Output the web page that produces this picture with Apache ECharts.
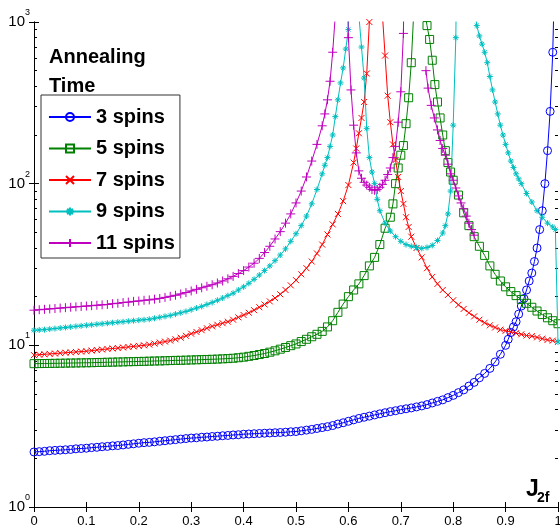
<!DOCTYPE html>
<html><head><meta charset="utf-8">
<script src="https://cdn.jsdelivr.net/npm/echarts@6/dist/echarts.min.js"></script>
<style>html,body{margin:0;padding:0;background:#fff}#c{width:560px;height:532px}</style>
</head><body><div id="c"></div>
<script>
// ---- data ----
const seriesNames = ['3 spins', '5 spins', '7 spins', '9 spins', '11 spins'];
const legendTitle = ['Annealing', 'Time'];
const xAxisName = ['J', '2f'];
const minorLogTicks = [2,3,4,5,6,7,8,9,20,30,40,50,60,70,80,90,200,300,400,500,600,700,800,900];

const spins3 = [[0,2.19],[0.01,2.2],[0.02,2.21],[0.03,2.23],[0.04,2.24],[0.05,2.25],[0.06,2.26],[0.07,2.27],[0.08,2.29],[0.09,2.3],[0.1,2.31],[0.11,2.33],[0.12,2.34],[0.13,2.36],[0.14,2.37],[0.15,2.39],[0.16,2.4],[0.17,2.42],[0.18,2.44],[0.19,2.46],[0.2,2.48],[0.21,2.5],[0.22,2.51],[0.23,2.53],[0.24,2.55],[0.25,2.57],[0.26,2.59],[0.27,2.61],[0.28,2.63],[0.29,2.65],[0.3,2.67],[0.31,2.68],[0.32,2.7],[0.33,2.71],[0.34,2.73],[0.35,2.74],[0.36,2.76],[0.37,2.77],[0.38,2.79],[0.39,2.8],[0.4,2.82],[0.41,2.83],[0.42,2.84],[0.43,2.85],[0.44,2.86],[0.45,2.87],[0.46,2.88],[0.47,2.89],[0.48,2.9],[0.49,2.92],[0.5,2.93],[0.51,2.96],[0.52,2.99],[0.53,3.02],[0.54,3.06],[0.55,3.1],[0.56,3.14],[0.57,3.19],[0.58,3.26],[0.59,3.32],[0.6,3.39],[0.61,3.46],[0.62,3.53],[0.63,3.59],[0.64,3.65],[0.65,3.71],[0.66,3.77],[0.67,3.83],[0.68,3.89],[0.69,3.94],[0.7,4.0],[0.71,4.05],[0.72,4.1],[0.73,4.16],[0.74,4.22],[0.75,4.3],[0.76,4.4],[0.77,4.5],[0.78,4.6],[0.79,4.75],[0.8,4.9],[0.81,5.1],[0.82,5.3],[0.83,5.6],[0.84,5.9],[0.85,6.3],[0.86,6.7],[0.87,7.2],[0.88,7.9],[0.89,8.8],[0.9,10],[0.905,10.9],[0.91,12],[0.915,13],[0.92,14],[0.925,15.6],[0.93,17.5],[0.935,19.5],[0.94,22],[0.945,25],[0.95,28],[0.955,33],[0.96,40],[0.965,52],[0.97,68],[0.975,100],[0.98,160],[0.985,280],[0.99,650],[0.995,3000]];

const spins5 = [[0,7.7],[0.01,7.71],[0.02,7.72],[0.03,7.73],[0.04,7.74],[0.05,7.75],[0.06,7.76],[0.07,7.77],[0.08,7.78],[0.09,7.79],[0.1,7.8],[0.11,7.81],[0.12,7.83],[0.13,7.84],[0.14,7.86],[0.15,7.87],[0.16,7.89],[0.17,7.9],[0.18,7.92],[0.19,7.93],[0.2,7.95],[0.21,7.96],[0.22,7.98],[0.23,8.0],[0.24,8.01],[0.25,8.03],[0.26,8.05],[0.27,8.07],[0.28,8.08],[0.29,8.1],[0.3,8.12],[0.31,8.14],[0.32,8.16],[0.33,8.18],[0.34,8.2],[0.35,8.22],[0.36,8.25],[0.37,8.28],[0.38,8.32],[0.39,8.38],[0.4,8.45],[0.41,8.55],[0.42,8.65],[0.43,8.77],[0.44,8.9],[0.45,9.07],[0.46,9.25],[0.47,9.47],[0.48,9.7],[0.49,9.95],[0.5,10.2],[0.51,10.55],[0.52,10.9],[0.53,11.3],[0.54,11.7],[0.55,12.2],[0.56,13.0],[0.57,14.2],[0.58,16],[0.59,18],[0.6,20],[0.61,22],[0.62,24],[0.63,27],[0.64,31],[0.65,35],[0.66,42],[0.67,53],[0.68,62],[0.685,75],[0.69,100],[0.695,125],[0.7,150],[0.705,172],[0.71,235],[0.715,340],[0.72,560],[0.725,1200],[0.73,20000],[0.74,20000],[0.745,1200],[0.75,950],[0.755,780],[0.76,580],[0.765,410],[0.77,320],[0.775,255],[0.78,200],[0.785,160],[0.79,135],[0.795,118],[0.8,105],[0.81,85],[0.82,66],[0.83,55],[0.84,47],[0.85,41],[0.86,36],[0.87,31],[0.88,27.5],[0.89,25],[0.9,23],[0.91,21.5],[0.92,20.3],[0.93,19.2],[0.94,18.2],[0.95,17.2],[0.96,16.3],[0.97,15.5],[0.98,14.8],[0.99,14.2],[1,13.6]];

const spins7 = [[0,8.7],[0.01,8.75],[0.02,8.8],[0.03,8.85],[0.04,8.9],[0.05,8.95],[0.06,9.0],[0.07,9.05],[0.08,9.1],[0.09,9.15],[0.1,9.2],[0.11,9.28],[0.12,9.35],[0.13,9.42],[0.14,9.5],[0.15,9.56],[0.16,9.62],[0.17,9.7],[0.18,9.77],[0.19,9.85],[0.2,9.92],[0.21,10],[0.22,10.1],[0.23,10.25],[0.24,10.4],[0.25,10.55],[0.26,10.7],[0.27,10.9],[0.28,11.15],[0.29,11.45],[0.3,11.8],[0.31,12.1],[0.32,12.4],[0.33,12.75],[0.34,13.1],[0.35,13.4],[0.36,13.7],[0.37,14.0],[0.38,14.4],[0.39,14.9],[0.4,15.4],[0.41,15.9],[0.42,16.5],[0.43,17.2],[0.44,17.9],[0.45,18.7],[0.46,19.6],[0.47,20.7],[0.48,22],[0.49,23.5],[0.5,25.3],[0.51,27.5],[0.52,30],[0.53,33],[0.54,37],[0.55,42],[0.56,48.5],[0.57,56],[0.58,65],[0.59,78],[0.6,98],[0.61,135],[0.615,165],[0.62,205],[0.625,255],[0.63,320],[0.635,480],[0.64,1000],[0.65,20000],[0.66,20000],[0.665,1100],[0.67,620],[0.675,350],[0.68,240],[0.685,175],[0.69,140],[0.695,110],[0.7,90],[0.705,75],[0.71,62],[0.715,54],[0.72,47],[0.73,40],[0.74,35],[0.75,30],[0.76,26.5],[0.77,24],[0.78,22],[0.79,20.5],[0.8,19],[0.81,17.8],[0.82,16.8],[0.83,15.9],[0.84,15.1],[0.85,14.4],[0.86,13.8],[0.87,13.3],[0.88,12.9],[0.89,12.5],[0.9,12.3],[0.91,12.1],[0.92,11.9],[0.93,11.7],[0.94,11.5],[0.95,11.4],[0.96,11.2],[0.97,11],[0.98,10.8],[0.99,10.7],[1,10.5]];

const spins9 = [[0,12.4],[0.01,12.45],[0.02,12.5],[0.03,12.6],[0.04,12.7],[0.05,12.8],[0.06,12.9],[0.07,13],[0.08,13.1],[0.09,13.2],[0.1,13.3],[0.11,13.4],[0.12,13.5],[0.13,13.6],[0.14,13.7],[0.15,13.8],[0.16,13.9],[0.17,14],[0.18,14.1],[0.19,14.2],[0.2,14.3],[0.21,14.4],[0.22,14.5],[0.23,14.7],[0.24,14.9],[0.25,15.1],[0.26,15.3],[0.27,15.6],[0.28,15.9],[0.29,16.2],[0.3,16.6],[0.31,17],[0.32,17.4],[0.33,17.9],[0.34,18.4],[0.35,19],[0.36,19.6],[0.37,20.3],[0.38,21],[0.39,22],[0.4,23],[0.41,24.2],[0.42,25.6],[0.43,27.2],[0.44,29],[0.45,31],[0.46,33.4],[0.47,36.2],[0.48,39.5],[0.49,44],[0.5,49],[0.51,55],[0.52,63],[0.53,75],[0.54,92],[0.55,115],[0.555,130],[0.56,145],[0.565,170],[0.57,200],[0.575,260],[0.58,330],[0.585,420],[0.59,520],[0.595,680],[0.6,900],[0.61,20000],[0.62,1100],[0.625,700],[0.63,450],[0.635,220],[0.64,145],[0.645,118],[0.65,100],[0.655,80],[0.66,68],[0.67,57],[0.68,51],[0.69,47],[0.7,44],[0.71,42],[0.72,41],[0.73,40.3],[0.74,39.8],[0.75,40.3],[0.76,41.5],[0.77,44.5],[0.78,49.5],[0.785,55],[0.79,65],[0.795,90],[0.8,230],[0.805,800],[0.81,20000],[0.83,20000],[0.84,1300],[0.845,950],[0.85,820],[0.855,730],[0.86,650],[0.865,560],[0.87,460],[0.875,380],[0.88,320],[0.885,270],[0.89,230],[0.895,200],[0.9,175],[0.905,155],[0.91,138],[0.915,126],[0.92,115],[0.925,107],[0.93,100],[0.94,87],[0.95,77],[0.96,68],[0.97,62],[0.98,57],[0.99,54],[0.995,52],[1,10.5]];

const spins11 = [[0,16.5],[0.01,16.6],[0.02,16.7],[0.03,16.8],[0.04,16.9],[0.05,17],[0.06,17.1],[0.07,17.2],[0.08,17.3],[0.09,17.4],[0.1,17.5],[0.11,17.6],[0.12,17.7],[0.13,17.8],[0.14,17.9],[0.15,18.1],[0.16,18.2],[0.17,18.4],[0.18,18.5],[0.19,18.7],[0.2,18.8],[0.21,19],[0.22,19.1],[0.23,19.3],[0.24,19.5],[0.25,19.8],[0.26,20.1],[0.27,20.4],[0.28,20.8],[0.29,21.2],[0.3,21.7],[0.31,22.2],[0.32,22.7],[0.33,23.2],[0.34,23.7],[0.35,24.3],[0.36,25],[0.37,25.8],[0.38,26.7],[0.39,27.8],[0.4,29],[0.41,30.5],[0.42,32.2],[0.43,34.5],[0.44,37.5],[0.45,41],[0.46,45.5],[0.47,50.5],[0.48,57],[0.49,65],[0.5,76],[0.51,90],[0.52,110],[0.53,138],[0.54,175],[0.55,228],[0.555,270],[0.56,330],[0.565,430],[0.57,650],[0.575,1100],[0.58,20000],[0.59,20000],[0.6,800],[0.605,380],[0.61,230],[0.615,155],[0.62,120],[0.625,108],[0.63,102],[0.635,98],[0.64,95],[0.645,92],[0.65,91],[0.655,92],[0.66,95],[0.665,99],[0.67,105],[0.675,114],[0.68,125],[0.685,145],[0.69,170],[0.695,240],[0.7,370],[0.705,850],[0.71,20000],[0.72,null],[0.748,500],[0.752,390],[0.758,305],[0.764,255],[0.77,215],[0.775,185],[0.78,165],[0.785,150],[0.79,132],[0.795,115],[0.8,105],[0.805,94],[0.81,84],[0.815,76],[0.82,70],[0.825,63],[0.83,57],[0.835,52],[0.84,48]];

// ---- styling ----
const FONT = '"Liberation Sans", Arial, sans-serif';
const colors = ['#0000ff', '#008000', '#ff0000', '#00bfbf', '#bf00bf'];
const symbols = ['circle', 'rect', 'path://M0,0L10,10M10,0L0,10',
  'path://M5,0L5,10M0,5L10,5M1.5,1.5L8.5,8.5M8.5,1.5L1.5,8.5',
  'path://M5,0L5,10M0,5L10,5'];
const symbolSizes = [8, 8, 6, 6, 9];
const dataSets = [spins3, spins5, spins7, spins9, spins11];

const chart = echarts.init(document.getElementById('c'), null, {renderer: 'canvas'});

const series = dataSets.map((d, i) => ({
  name: seriesNames[i], type: 'line', xAxisIndex: 0, yAxisIndex: 0,
  data: d.map(p => [p[0], p[1] == null ? '-' : p[1]]),
  symbol: symbols[i], symbolSize: symbolSizes[i],
  showSymbol: true, showAllSymbol: true, connectNulls: false, clip: true,
  lineStyle: {color: colors[i], width: 1},
  itemStyle: {color: 'transparent', borderColor: colors[i], borderWidth: 1},
  emphasis: {disabled: true}, silent: true, z: 2 + i
}));

const axisLineStyle = {lineStyle: {color: '#000', width: 1}};
const hiddenLabel = {show: false};

chart.setOption({
  animation: false,
  backgroundColor: '#fff',
  grid: {left: 34, right: 2, top: 22, bottom: 25, containLabel: false, outerBoundsMode: 'none'},
  xAxis: [
    {type: 'value', position: 'bottom', min: 0, max: 1, interval: 0.1,
      axisLine: axisLineStyle, splitLine: {show: false},
      axisTick: {inside: true, length: 5, lineStyle: {color: '#000'}},
      axisLabel: {margin: 8, color: '#000', fontFamily: FONT, fontSize: 13, showMaxLabel: true, showMinLabel: true}},
    {type: 'value', position: 'top', min: 0, max: 1, interval: 0.1,
      axisLine: axisLineStyle, splitLine: {show: false},
      axisTick: {inside: true, length: 5, lineStyle: {color: '#000'}},
      axisLabel: hiddenLabel}
  ],
  yAxis: [
    {type: 'log', logBase: 10, position: 'left', min: 1, max: 1000,
      axisLine: axisLineStyle, splitLine: {show: false},
      axisTick: {inside: true, length: 5, lineStyle: {color: '#000'}},
      axisLabel: {margin: 4, showMinLabel: true, showMaxLabel: true,
        formatter: v => '{b|10}{s|' + Math.round(Math.log10(v)) + '}',
        rich: {
          b: {fontSize: 15, fontFamily: FONT, color: '#000', lineHeight: 28},
          s: {fontSize: 9, fontFamily: FONT, color: '#000', verticalAlign: 'top', lineHeight: 10}
        }}},
    {type: 'log', logBase: 10, position: 'right', min: 1, max: 1000,
      axisLine: axisLineStyle, splitLine: {show: false},
      axisTick: {inside: true, length: 5, lineStyle: {color: '#000'}},
      axisLabel: hiddenLabel},
    {type: 'value', position: 'left', min: 0, max: 3,
      axisLine: {show: false}, splitLine: {show: false}, axisLabel: hiddenLabel,
      axisTick: {inside: true, length: 3, lineStyle: {color: '#000'},
        customValues: minorLogTicks.map(v => Math.log10(v))}},
    {type: 'value', position: 'right', min: 0, max: 3,
      axisLine: {show: false}, splitLine: {show: false}, axisLabel: hiddenLabel,
      axisTick: {inside: true, length: 3, lineStyle: {color: '#000'},
        customValues: minorLogTicks.map(v => Math.log10(v))}}
  ],
  legend: {
    orient: 'vertical', left: 41, top: 95,
    padding: [12, 5, 5, 7], itemGap: 11.5, itemWidth: 42, itemHeight: 10,
    borderColor: '#333', borderWidth: 1, backgroundColor: '#fff',
    selectedMode: false, data: seriesNames,
    textStyle: {fontFamily: FONT, fontSize: 20, fontWeight: 'bold', color: '#000', lineHeight: 20}
  },
  graphic: [
    {type: 'text', x: 49, y: 57, z: 100, style: {text: legendTitle[0], fill: '#000',
      font: 'bold 20px ' + FONT, verticalAlign: 'middle'}},
    {type: 'text', x: 49, y: 86, z: 100, style: {text: legendTitle[1], fill: '#000',
      font: 'bold 20px ' + FONT, verticalAlign: 'middle'}},
    {type: 'text', x: 526, y: 490, z: 100, style: {text: xAxisName[0], fill: '#000',
      font: 'bold 23px ' + FONT, verticalAlign: 'middle'}},
    {type: 'text', x: 537, y: 498, z: 100, style: {text: xAxisName[1], fill: '#000',
      font: 'bold 14px ' + FONT, verticalAlign: 'middle'}}
  ],
  series: series
});
</script></body></html>
